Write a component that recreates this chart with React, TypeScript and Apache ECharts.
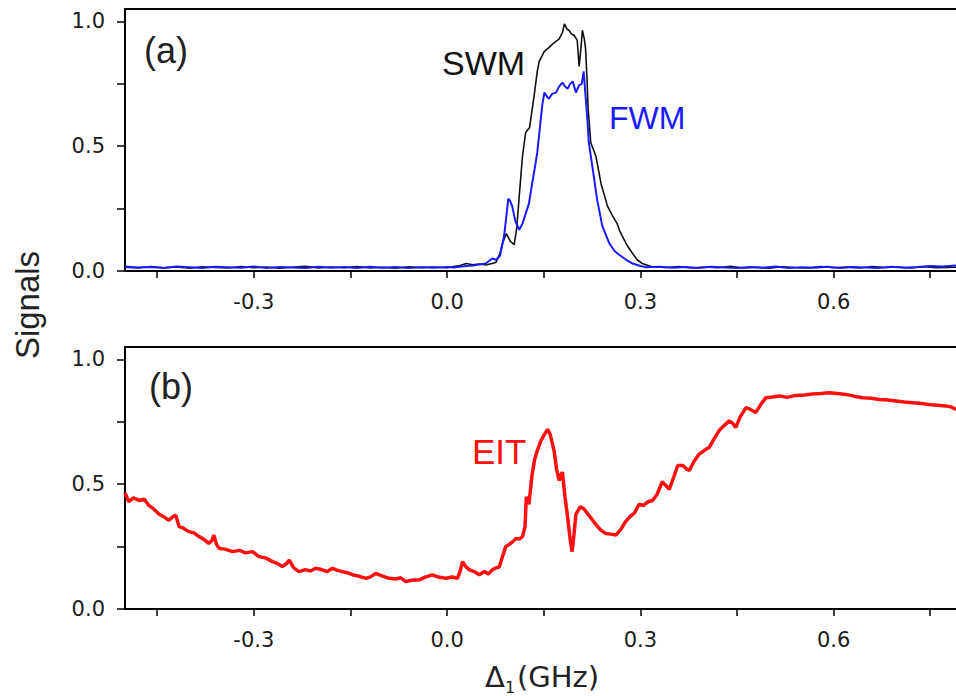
import React, { useEffect, useRef } from "react";
import * as echarts from "echarts";

// Axis ticks
const xMajorTicks = [-0.3, 0.0, 0.3, 0.6];
const xMinorTicks = [-0.45, -0.15, 0.15, 0.45, 0.75];
const yMajorTicks = [0.0, 0.5, 1.0];
const yMinorTicks = [0.25, 0.75];

// Panel (a): SWM signal [detuning GHz, signal]
const swm: [number, number][] = [
  [-0.5, 0.015], [-0.48, 0.012], [-0.46, 0.018], [-0.44, 0.013], [-0.42, 0.016], [-0.4, 0.011],
  [-0.38, 0.017], [-0.36, 0.014], [-0.34, 0.012], [-0.32, 0.018], [-0.3, 0.013], [-0.28, 0.016],
  [-0.26, 0.011], [-0.24, 0.015], [-0.22, 0.019], [-0.2, 0.012], [-0.18, 0.016], [-0.16, 0.013],
  [-0.14, 0.018], [-0.12, 0.012], [-0.1, 0.015], [-0.08, 0.011], [-0.06, 0.017], [-0.04, 0.014],
  [-0.02, 0.016], [0.0, 0.013], [0.01, 0.018], [0.02, 0.022], [0.03, 0.03], [0.04, 0.025],
  [0.05, 0.028], [0.06, 0.024], [0.07, 0.03], [0.076, 0.035], [0.082, 0.07], [0.086, 0.11],
  [0.092, 0.15], [0.098, 0.12], [0.104, 0.105], [0.108, 0.17], [0.112, 0.3], [0.117, 0.46],
  [0.122, 0.555], [0.128, 0.575], [0.135, 0.7], [0.14, 0.8], [0.143, 0.84], [0.151, 0.88],
  [0.158, 0.895], [0.164, 0.91], [0.174, 0.93], [0.179, 0.955], [0.182, 0.99], [0.186, 0.97],
  [0.189, 0.965], [0.193, 0.95], [0.197, 0.945], [0.202, 0.925], [0.205, 0.82], [0.208, 0.9],
  [0.21, 0.965], [0.213, 0.93], [0.215, 0.89], [0.217, 0.78], [0.219, 0.65], [0.223, 0.515],
  [0.231, 0.46], [0.239, 0.35], [0.249, 0.26], [0.257, 0.22], [0.264, 0.19], [0.268, 0.16],
  [0.272, 0.14], [0.28, 0.1], [0.288, 0.07], [0.295, 0.045], [0.303, 0.03], [0.318, 0.017],
  [0.34, 0.014], [0.36, 0.018], [0.38, 0.012], [0.4, 0.016], [0.42, 0.013], [0.44, 0.019],
  [0.46, 0.012], [0.48, 0.015], [0.5, 0.011], [0.52, 0.017], [0.54, 0.014], [0.56, 0.012],
  [0.58, 0.018], [0.6, 0.013], [0.62, 0.016], [0.64, 0.012], [0.66, 0.018], [0.68, 0.014],
  [0.7, 0.016], [0.72, 0.012], [0.74, 0.017], [0.76, 0.013], [0.79, 0.015],
];

// Panel (a): FWM signal
const fwm: [number, number][] = [
  [-0.5, 0.018], [-0.48, 0.014], [-0.46, 0.016], [-0.44, 0.012], [-0.42, 0.018], [-0.4, 0.015],
  [-0.38, 0.012], [-0.36, 0.017], [-0.34, 0.015], [-0.32, 0.013], [-0.3, 0.018], [-0.28, 0.012],
  [-0.26, 0.016], [-0.24, 0.014], [-0.22, 0.012], [-0.2, 0.017], [-0.18, 0.013], [-0.16, 0.016],
  [-0.14, 0.012], [-0.12, 0.017], [-0.1, 0.013], [-0.08, 0.016], [-0.06, 0.012], [-0.04, 0.015],
  [-0.02, 0.013], [0.0, 0.016], [0.01, 0.014], [0.02, 0.017], [0.03, 0.02], [0.04, 0.022],
  [0.05, 0.026], [0.06, 0.03], [0.066, 0.042], [0.07, 0.05], [0.076, 0.045], [0.082, 0.06],
  [0.0885, 0.14], [0.092, 0.22], [0.095, 0.29], [0.098, 0.28], [0.101, 0.26], [0.106, 0.2],
  [0.112, 0.165], [0.117, 0.19], [0.122, 0.23], [0.127, 0.27], [0.132, 0.35], [0.136, 0.41],
  [0.14, 0.475], [0.1455, 0.61], [0.148, 0.67], [0.151, 0.715], [0.155, 0.7], [0.158, 0.69],
  [0.163, 0.71], [0.169, 0.715], [0.174, 0.74], [0.179, 0.755], [0.183, 0.74], [0.187, 0.73],
  [0.191, 0.75], [0.195, 0.76], [0.2, 0.715], [0.205, 0.745], [0.209, 0.75], [0.212, 0.8],
  [0.215, 0.7], [0.218, 0.6], [0.22, 0.515], [0.226, 0.41], [0.233, 0.285], [0.241, 0.18],
  [0.252, 0.11], [0.26, 0.08], [0.267, 0.065], [0.278, 0.045], [0.288, 0.03], [0.3, 0.02],
  [0.309, 0.015], [0.33, 0.017], [0.35, 0.013], [0.37, 0.016], [0.39, 0.012], [0.41, 0.017],
  [0.43, 0.014], [0.45, 0.012], [0.47, 0.016], [0.49, 0.013], [0.51, 0.018], [0.53, 0.012],
  [0.55, 0.015], [0.57, 0.013], [0.59, 0.017], [0.61, 0.012], [0.63, 0.016], [0.65, 0.014],
  [0.67, 0.012], [0.69, 0.017], [0.71, 0.013], [0.73, 0.016], [0.75, 0.02], [0.77, 0.018],
  [0.79, 0.022],
];

// Panel (b): EIT signal
const eit: [number, number][] = [
  [-0.5, 0.465], [-0.494, 0.43], [-0.487, 0.445], [-0.478, 0.435], [-0.47, 0.44], [-0.463, 0.415],
  [-0.455, 0.4], [-0.447, 0.38], [-0.44, 0.37], [-0.432, 0.355], [-0.426, 0.37], [-0.421, 0.375],
  [-0.416, 0.33], [-0.41, 0.325], [-0.401, 0.31], [-0.393, 0.305], [-0.385, 0.29], [-0.378, 0.28],
  [-0.37, 0.263], [-0.365, 0.275], [-0.362, 0.296], [-0.358, 0.26], [-0.354, 0.243], [-0.345, 0.24],
  [-0.333, 0.23], [-0.322, 0.235], [-0.313, 0.225], [-0.302, 0.23], [-0.292, 0.21], [-0.282, 0.205],
  [-0.271, 0.19], [-0.263, 0.182], [-0.256, 0.17], [-0.25, 0.18], [-0.245, 0.196], [-0.238, 0.165],
  [-0.23, 0.15], [-0.22, 0.158], [-0.212, 0.152], [-0.204, 0.163], [-0.195, 0.158], [-0.186, 0.15],
  [-0.178, 0.163], [-0.17, 0.155], [-0.16, 0.148], [-0.152, 0.143], [-0.144, 0.135], [-0.135, 0.13],
  [-0.126, 0.123], [-0.118, 0.13], [-0.111, 0.143], [-0.1, 0.132], [-0.09, 0.123], [-0.08, 0.12],
  [-0.072, 0.125], [-0.064, 0.11], [-0.055, 0.115], [-0.043, 0.117], [-0.034, 0.128], [-0.023, 0.137],
  [-0.012, 0.127], [-0.002, 0.123], [0.008, 0.128], [0.016, 0.123], [0.02, 0.15], [0.024, 0.19],
  [0.029, 0.17], [0.034, 0.158], [0.042, 0.15], [0.05, 0.137], [0.058, 0.15], [0.064, 0.14],
  [0.07, 0.157], [0.076, 0.165], [0.081, 0.168], [0.086, 0.21], [0.091, 0.25], [0.097, 0.26],
  [0.102, 0.27], [0.107, 0.283], [0.112, 0.28], [0.117, 0.29], [0.121, 0.33], [0.123, 0.45],
  [0.127, 0.42], [0.132, 0.54], [0.136, 0.6], [0.14, 0.635], [0.145, 0.67], [0.15, 0.695],
  [0.156, 0.72], [0.16, 0.7], [0.166, 0.635], [0.17, 0.56], [0.174, 0.515], [0.177, 0.54],
  [0.179, 0.548], [0.183, 0.45], [0.187, 0.37], [0.191, 0.28], [0.194, 0.23], [0.197, 0.3],
  [0.2, 0.38], [0.207, 0.41], [0.213, 0.4], [0.22, 0.375], [0.226, 0.356], [0.232, 0.335],
  [0.239, 0.315], [0.246, 0.303], [0.254, 0.3], [0.262, 0.296], [0.27, 0.32], [0.277, 0.35],
  [0.284, 0.37], [0.291, 0.385], [0.298, 0.42], [0.305, 0.415], [0.312, 0.43], [0.319, 0.435],
  [0.326, 0.46], [0.334, 0.51], [0.345, 0.48], [0.352, 0.53], [0.358, 0.575], [0.366, 0.575],
  [0.372, 0.56], [0.376, 0.555], [0.383, 0.59], [0.391, 0.62], [0.399, 0.635], [0.407, 0.648],
  [0.414, 0.68], [0.422, 0.714], [0.43, 0.735], [0.438, 0.754], [0.443, 0.745], [0.448, 0.727],
  [0.455, 0.77], [0.464, 0.807], [0.471, 0.8], [0.479, 0.787], [0.487, 0.82], [0.495, 0.847],
  [0.505, 0.85], [0.516, 0.854], [0.528, 0.848], [0.541, 0.856], [0.555, 0.858], [0.567, 0.862],
  [0.58, 0.864], [0.593, 0.867], [0.606, 0.864], [0.619, 0.86], [0.632, 0.853], [0.645, 0.847],
  [0.658, 0.845], [0.671, 0.84], [0.684, 0.838], [0.697, 0.834], [0.71, 0.83], [0.723, 0.827],
  [0.736, 0.824], [0.748, 0.82], [0.761, 0.817], [0.774, 0.814], [0.782, 0.81], [0.79, 0.8],
];

const X_MIN = -0.5;
const X_MAX = 0.79;
const Y_MIN = 0;
const Y_MAX = 1.05;

const LABEL_FONT = "DejaVu Sans";
const TEXT_FONT = "Liberation Sans";
const fmt = (v: number) => Number(v).toFixed(1);

function bottomX(gridIndex: number) {
  return {
    type: "value",
    gridIndex,
    position: "bottom",
    min: X_MIN,
    max: X_MAX,
    axisLine: { show: true, onZero: false, lineStyle: { color: "#000", width: 2 } },
    axisTick: {
      show: true,
      inside: false,
      length: 7,
      customValues: [...xMajorTicks, ...xMinorTicks],
      lineStyle: { color: "#000", width: 1.5 },
    },
    axisLabel: {
      show: true,
      customValues: xMajorTicks,
      formatter: fmt,
      margin: 20,
      fontFamily: LABEL_FONT,
      fontSize: 21,
      color: "#1a1a1a",
    },
    splitLine: { show: false },
  };
}

function topX(gridIndex: number) {
  return {
    type: "value",
    gridIndex,
    position: "top",
    min: X_MIN,
    max: X_MAX,
    axisLine: { show: true, onZero: false, lineStyle: { color: "#000", width: 2 } },
    axisTick: { show: false },
    axisLabel: { show: false },
    splitLine: { show: false },
  };
}

function leftY(gridIndex: number) {
  return {
    type: "value",
    gridIndex,
    position: "left",
    min: Y_MIN,
    max: Y_MAX,
    axisLine: { show: true, onZero: false, lineStyle: { color: "#000", width: 2 } },
    axisTick: {
      show: true,
      inside: false,
      length: 8,
      customValues: [...yMajorTicks, ...yMinorTicks],
      lineStyle: { color: "#000", width: 1.5 },
    },
    axisLabel: {
      show: true,
      customValues: yMajorTicks,
      formatter: fmt,
      margin: 20,
      fontFamily: LABEL_FONT,
      fontSize: 21,
      color: "#1a1a1a",
    },
    splitLine: { show: false },
  };
}

function txt(text: string, x: number, y: number, size: number, fill: string, extra: any = {}) {
  return {
    type: "text",
    x,
    y,
    ...extra,
    style: {
      text,
      fill,
      fontSize: size,
      fontFamily: extra.fontFamily || TEXT_FONT,
      align: extra.align || "left",
      verticalAlign: "middle",
      textAlign: extra.align || "left",
      textVerticalAlign: "middle",
    },
  };
}

export default function App() {
  const ref = useRef<HTMLDivElement>(null);

  useEffect(() => {
    if (!ref.current) return;
    const chart = echarts.init(ref.current, undefined, { renderer: "svg" });
    const option: any = {
      animation: false,
      backgroundColor: "#fff",
      grid: [
        { left: 125, top: 9, width: 831, height: 262, containLabel: false },
        { left: 125, top: 347, width: 831, height: 262, containLabel: false },
      ],
      xAxis: [bottomX(0), topX(0), bottomX(1), topX(1)],
      yAxis: [leftY(0), leftY(1)],
      series: [
        {
          name: "SWM",
          type: "line",
          xAxisIndex: 0,
          yAxisIndex: 0,
          data: swm,
          showSymbol: false,
          lineStyle: { color: "#111", width: 1.6 },
          z: 2,
        },
        {
          name: "FWM",
          type: "line",
          xAxisIndex: 0,
          yAxisIndex: 0,
          data: fwm,
          showSymbol: false,
          lineStyle: { color: "#1a1aff", width: 2 },
          z: 3,
        },
        {
          name: "EIT",
          type: "line",
          xAxisIndex: 2,
          yAxisIndex: 1,
          data: eit,
          showSymbol: false,
          lineStyle: { color: "#ff1010", width: 3.5 },
          z: 2,
        },
      ],
      graphic: [
        txt("(a)", 144, 50, 36, "#222"),
        txt("(b)", 149, 386, 36, "#222"),
        txt("SWM", 442, 63, 34, "#111"),
        txt("FWM", 609, 118, 32, "#1a1aff"),
        txt("EIT", 472, 451, 35, "#ff1010"),
        txt("Signals", 27, 305, 33, "#222", { rotation: Math.PI / 2, align: "center" }),
        txt("Δ", 485, 677, 29, "#222", { fontFamily: LABEL_FONT }),
        txt("1", 505, 687, 16, "#222", { fontFamily: LABEL_FONT }),
        txt("(GHz)", 517, 677, 29, "#222", { fontFamily: LABEL_FONT }),
      ],
    };
    chart.setOption(option);
    return () => chart.dispose();
  }, []);

  return (
    <div
      ref={ref}
      style={{ position: "fixed", left: 0, top: 0, width: 956, height: 696, background: "#fff" }}
    />
  );
}
